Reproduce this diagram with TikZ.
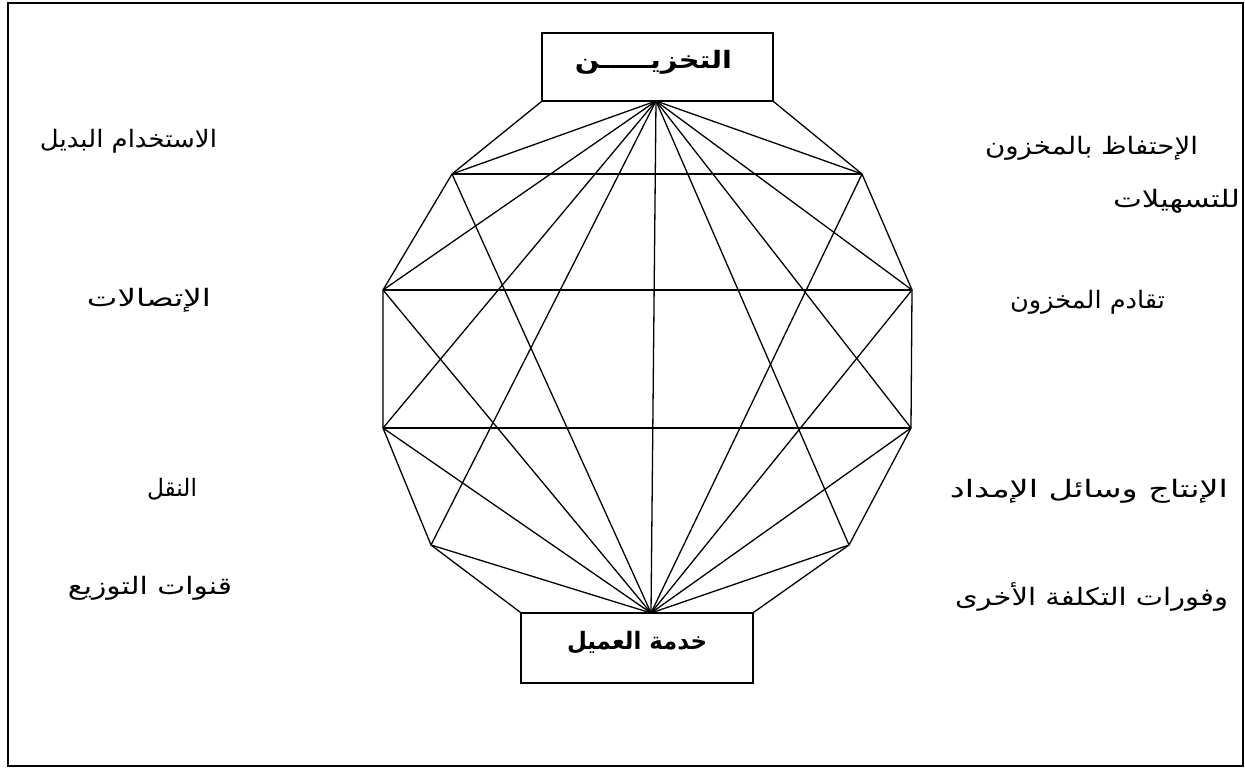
\documentclass[tikz,border=0pt]{standalone}
\usepackage{fontspec}
\usepackage{graphicx}
\newfontfamily\arabicfont[Script=Arabic]{DejaVu Sans}
\TeXXeTstate=1
\begin{document}
\begin{tikzpicture}[x=1pt,y=-1pt,
  edge/.style={draw=black,line width=1.3pt},
  box/.style={draw=black,line width=1.3pt,fill=white,inner sep=0pt},
  lbl/.style={font=\arabicfont\fontsize{24}{28}\selectfont,inner sep=0pt},
  boxlbl/.style={font=\arabicfont\bfseries\fontsize{24}{28}\selectfont,inner sep=0pt}]
\useasboundingbox (0,0) rectangle (1245,768);
\draw[line width=1.8pt] (8,3) rectangle (1243,766);
% boxes
\node[box,minimum width=231pt,minimum height=68pt] (topbox) at (657.5,67) {};
\node[box,minimum width=232pt,minimum height=70pt] (botbox) at (637,648) {};
\node[boxlbl] (toplbl) at (653.5,62) {\resizebox{157pt}{\height}{\beginR التخزيـــــن\endR}};
\node[boxlbl] (botlbl) at (637,643) {\resizebox{140pt}{\height}{\beginR خدمة العميل\endR}};
% vertices
\coordinate (T) at (656,101);
\coordinate (B) at (651,613);
\coordinate (UL) at (452,174);
\coordinate (UR) at (862,174);
\coordinate (ML) at (383,290);
\coordinate (MR) at (912,290);
\coordinate (NL) at (383,428);
\coordinate (NR) at (911,428);
\coordinate (LL) at (431,545);
\coordinate (LR) at (849,545);
% outline
\draw[edge] (topbox.south west) -- (UL) -- (ML) -- (NL) -- (LL) -- (botbox.north west);
\draw[edge] (topbox.south east) -- (UR) -- (MR) -- (NR) -- (LR) -- (botbox.north east);
% horizontals
\draw[edge] (UL) -- (UR);
\draw[edge] (ML) -- (MR);
\draw[edge] (NL) -- (NR);
% fans
\foreach \v in {UL,UR,ML,MR,NL,NR,LL,LR} {
  \draw[edge] (T) -- (\v);
  \draw[edge] (B) -- (\v);
}
\draw[edge] (T) -- (B);
% side labels
\node[lbl] (a1) at (128.5,141) {\resizebox{177pt}{\height}{\beginR الاستخدام البديل\endR}};
\node[lbl] (a2) at (149,300) {\resizebox{124pt}{\height}{\beginR الإتصالات\endR}};
\node[lbl] (a3) at (172,489) {\resizebox{50pt}{\height}{\beginR النقل\endR}};
\node[lbl] (a4) at (150,588) {\resizebox{164pt}{\height}{\beginR قنوات التوزيع\endR}};
\node[lbl] (b1) at (1091.5,148) {\resizebox{213pt}{\height}{\beginR الإحتفاظ بالمخزون\endR}};
\node[lbl] (b2) at (1176.5,201) {\resizebox{127pt}{\height}{\beginR للتسهيلات\endR}};
\node[lbl] (b3) at (1087.5,302) {\resizebox{155pt}{\height}{\beginR تقادم المخزون\endR}};
\node[lbl] (b4) at (1089,491) {\resizebox{278pt}{\height}{\beginR الإنتاج وسائل الإمداد\endR}};
\node[lbl] (b5) at (1091.5,597) {\resizebox{273pt}{\height}{\beginR وفورات التكلفة الأخرى\endR}};
\end{tikzpicture}
\end{document}
